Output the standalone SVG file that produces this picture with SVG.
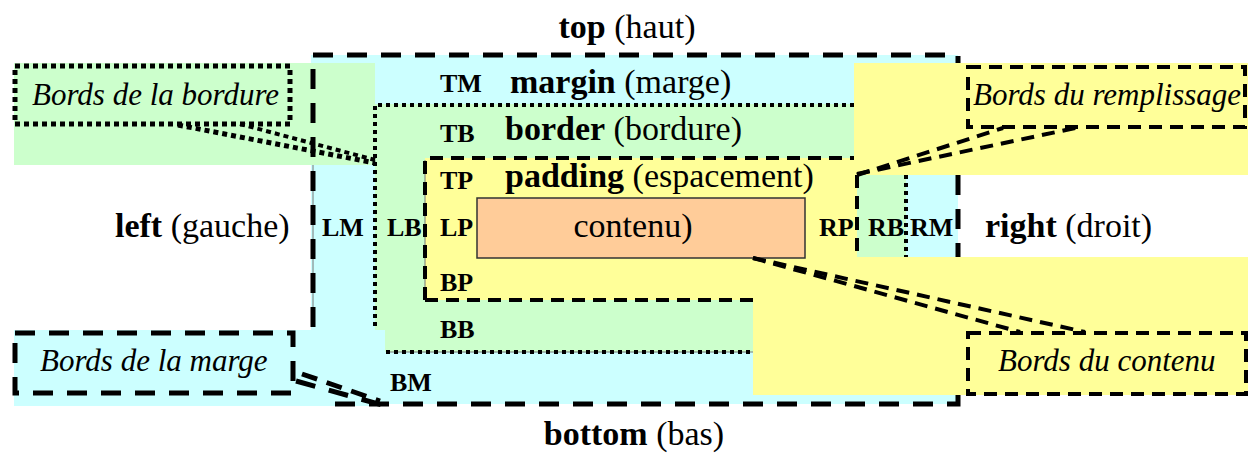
<svg xmlns="http://www.w3.org/2000/svg" width="1248" height="453" viewBox="0 0 1248 453">
<style>
.cy{fill:#ccffff}
.gr{fill:#ccffcc}
.ye{fill:#ffff99}
.ln{fill:none;stroke:#000}
.hair{fill:none;stroke:#777;stroke-width:1}
.mg{stroke-width:5;stroke-dasharray:20 14}
.bd{stroke-width:4;stroke-dasharray:4 4}
.pd{stroke-width:4;stroke-dasharray:13 8}
.big{font-family:"Liberation Serif",serif;font-size:34px;fill:#000}
.sm{font-family:"Liberation Serif",serif;font-size:26px;font-weight:bold;fill:#000}
.it{font-family:"Liberation Serif",serif;font-size:31px;font-style:italic;fill:#000}
</style>
<rect width="1248" height="453" fill="#fff"/>
<g id="box-model">
<rect class="cy" x="311" y="55" width="647" height="349"/>
<rect class="gr" x="375" y="104" width="482" height="248"/>
<rect class="ye" x="425" y="158" width="432" height="142"/>
</g>
<g id="callout-backgrounds">
<rect class="gr" x="14" y="63" width="361" height="102"/>
<rect class="ye" x="854" y="63" width="394" height="112"/>
<rect class="ye" x="753" y="257" width="495" height="138"/>
<rect class="cy" x="14" y="330" width="371" height="76"/>
</g>
<g id="right-strip">
<rect class="ye" x="805" y="175" width="52" height="82"/>
<rect class="gr" x="857" y="175" width="49" height="82"/>
<rect class="cy" x="906" y="175" width="52" height="82"/>
</g>
<g id="edges">
<path class="hair" d="M313,165 V327"/>
<path class="hair" d="M425,160 V300"/>
<path class="hair" d="M386,352 H753"/>
<path class="ln mg" d="M313,327 V55 H958 V63"/>
<path class="ln mg" d="M958,175 V257"/>
<path class="ln mg" d="M958,395 V404 H322"/>
<path class="ln bd" d="M375,326 V105 H854"/>
<path class="ln bd" d="M386,352 H753"/>
<path class="ln bd" d="M906,175 V257"/>
<path class="ln pd" d="M425,300 V158 H854"/>
<path class="ln pd" d="M425,300 H753"/>
<path class="ln pd" d="M857,175 V257"/>
</g>
<g id="content">
<rect x="477" y="198" width="328" height="60" fill="#ffcc99" stroke="#333" stroke-width="1.5"/>
<text class="big" x="633" y="237" text-anchor="middle">contenu)</text>
</g>
<g id="labels">
<text class="big" x="627" y="38" text-anchor="middle"><tspan font-weight="bold">top</tspan> (haut)</text>
<text class="big" x="634" y="445" text-anchor="middle"><tspan font-weight="bold">bottom</tspan> (bas)</text>
<text class="big" x="115" y="237"><tspan font-weight="bold">left</tspan> (gauche)</text>
<text class="big" x="985" y="237"><tspan font-weight="bold">right</tspan> (droit)</text>
<text class="big" x="510" y="93"><tspan font-weight="bold">margin</tspan> (marge)</text>
<text class="big" x="505" y="140"><tspan font-weight="bold">border</tspan> (bordure)</text>
<text class="big" x="505" y="187"><tspan font-weight="bold">padding</tspan> (espacement)</text>
<text class="sm" x="440" y="92">TM</text>
<text class="sm" x="440" y="142">TB</text>
<text class="sm" x="440" y="189">TP</text>
<text class="sm" x="322" y="236">LM</text>
<text class="sm" x="387" y="236">LB</text>
<text class="sm" x="440" y="236">LP</text>
<text class="sm" x="819" y="236">RP</text>
<text class="sm" x="868" y="236">RB</text>
<text class="sm" x="910" y="236">RM</text>
<text class="sm" x="440" y="291">BP</text>
<text class="sm" x="440" y="338">BB</text>
<text class="sm" x="390" y="391">BM</text>
</g>
<g id="connectors">
<line class="ln" stroke-width="5" stroke-dasharray="5 4" x1="178" y1="125" x2="375" y2="163"/>
<line class="ln" stroke-width="4" stroke-dasharray="5 4" x1="240" y1="124" x2="375" y2="160"/>
<line class="ln pd" x1="857" y1="175" x2="1003" y2="128"/>
<line class="ln pd" x1="857" y1="174" x2="1080" y2="127"/>
<line class="ln pd" x1="753" y1="258" x2="1020" y2="332"/>
<line class="ln pd" x1="753" y1="258" x2="1085" y2="332"/>
<line class="ln mg" x1="296" y1="381" x2="382" y2="405"/>
<line class="ln" stroke-width="5" stroke-dasharray="16 10" x1="302" y1="374" x2="380" y2="401"/>
</g>
<g id="callout-border">
<rect class="ln" stroke-width="5" stroke-dasharray="5 4" x="15" y="66" width="275" height="58"/>
<text class="it" x="32" y="105">Bords de la bordure</text>
</g>
<g id="callout-padding">
<rect class="ln pd" x="968" y="67" width="277" height="60"/>
<text class="it" x="973" y="105">Bords du remplissage</text>
</g>
<g id="callout-margin">
<rect class="ln mg" x="15" y="333" width="278" height="60"/>
<text class="it" x="40" y="371">Bords de la marge</text>
</g>
<g id="callout-content">
<rect class="ln pd" x="968" y="333" width="278" height="61"/>
<text class="it" x="998" y="371">Bords du contenu</text>
</g>
</svg>
